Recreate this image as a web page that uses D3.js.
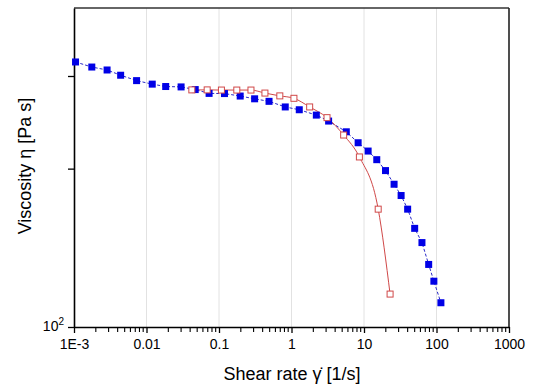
<!DOCTYPE html>
<html>
<head>
<meta charset="utf-8">
<script src="https://cdn.jsdelivr.net/npm/d3@7"></script>
<style>
  body{margin:0;background:#fff;}
  svg{display:block;font-family:"Liberation Sans",Arial,sans-serif;}
</style>
</head>
<body>
<div id="chart"></div>
<script>
// shear rate [1/s] and viscosity [Pa s]
const blueRate=[0.00105,0.00176,0.00286,0.0044,0.0073,0.012,0.0184,0.030,0.047,0.073,0.119,0.196,0.31,0.49,0.82,1.28,2.2,3.25,5.7,8.3,11.4,15,19.8,26,32.5,40,50,63,78,92,115];
const blueVisc=[319,312,308,301,294,289.5,286.5,286,282.7,278,277.8,274.8,271.5,268.5,262,258.8,252.8,246.3,235,224,216,208,198.3,186.8,177.8,167.5,154,144.7,131.5,122.2,111.2];

const redRate=[0.0422,0.0687,0.108,0.176,0.276,0.43,0.69,1.08,1.78,3.09,5.24,8.64,15.7,22.9];
const redVisc=[282.3,282.3,282.1,282.1,282.1,278.4,275,272.1,262,250,231.7,210.5,167.5,115.5];

const xDecades=[1e-3,1e-2,1e-1,1,10,100,1000];
const xTickLabels=["1E-3","0.01","0.1","1","10","100","1000"];
const yTicks=[100,200,300];

const W=550,H=389;
const margin={top:8,right:41,bottom:62,left:74};

const svg=d3.select("#chart").append("svg")
  .attr("width",W).attr("height",H);

const x=d3.scaleLog().domain([1e-3,1e3]).range([margin.left,W-margin.right]);
const y=d3.scaleLog().domain([100,404]).range([H-margin.bottom,margin.top]);

const x0=margin.left,x1=W-margin.right,y0=H-margin.bottom,y1=margin.top;

// vertical grid at decades
svg.append("g").selectAll("line")
  .data(xDecades.slice(1,-1))
  .enter().append("line")
  .attr("x1",d=>x(d)).attr("x2",d=>x(d))
  .attr("y1",y1).attr("y2",y0)
  .attr("stroke","#e2e2e2").attr("stroke-width",1);

// frame top / right
svg.append("line").attr("x1",x0).attr("x2",x1).attr("y1",y1).attr("y2",y1)
  .attr("stroke","#333").attr("stroke-width",1.6);
svg.append("line").attr("x1",x1).attr("x2",x1).attr("y1",y1).attr("y2",y0)
  .attr("stroke","#222").attr("stroke-width",1.6);

// x axis with minor ticks
const minor=[];
xDecades.slice(0,-1).forEach(d=>{for(let k=2;k<=9;k++)minor.push(d*k)});
const xAxis=d3.axisBottom(x).tickValues(xDecades)
  .tickFormat((d,i)=>xTickLabels[i]).tickSize(6).tickSizeOuter(0);
const gx=svg.append("g").attr("transform",`translate(0,${y0})`).call(xAxis);
gx.select(".domain").attr("stroke","#000").attr("stroke-width",1.6);
gx.selectAll(".tick line").attr("stroke","#000").attr("stroke-width",1.3);
gx.selectAll(".tick text").attr("font-size",14).attr("fill","#000")
  .attr("font-family","Liberation Sans, Arial, sans-serif").attr("dy","0.9em");
gx.append("g").selectAll("line").data(minor).enter().append("line")
  .attr("x1",d=>x(d)).attr("x2",d=>x(d)).attr("y1",0).attr("y2",5)
  .attr("stroke","#000").attr("stroke-width",1.1);

// y axis
const yAxis=d3.axisLeft(y).tickValues(yTicks).tickFormat("").tickSize(6).tickSizeOuter(0);
const gy=svg.append("g").attr("transform",`translate(${x0},0)`).call(yAxis);
gy.select(".domain").attr("stroke","#000").attr("stroke-width",1.6);
gy.selectAll(".tick line").attr("stroke","#000").attr("stroke-width",1.3);

const yl=svg.append("text").attr("x",x0-10).attr("y",y(100)+4)
  .attr("text-anchor","end").attr("font-size",14).attr("fill","#000");
yl.append("tspan").text("10");
yl.append("tspan").attr("font-size",10).attr("dy",-6).text("2");

// blue series
const line=d3.line().x(d=>x(d[0])).y(d=>y(d[1]));
const blue=blueRate.map((r,i)=>[r,blueVisc[i]]);
const red=redRate.map((r,i)=>[r,redVisc[i]]);

svg.append("path").datum(blue).attr("d",line)
  .attr("fill","none").attr("stroke","#2a2ac8").attr("stroke-width",1)
  .attr("stroke-dasharray","3,2");

svg.append("path").datum(red).attr("d",line.curve(d3.curveMonotoneX))
  .attr("fill","none").attr("stroke","#d04848").attr("stroke-width",1);

const s=7;
svg.append("g").selectAll("rect").data(blue).enter().append("rect")
  .attr("x",d=>x(d[0])-s/2).attr("y",d=>y(d[1])-s/2)
  .attr("width",s).attr("height",s).attr("fill","#0000e6");

svg.append("g").selectAll("rect").data(red).enter().append("rect")
  .attr("x",d=>x(d[0])-s/2+0.5).attr("y",d=>y(d[1])-s/2+0.5)
  .attr("width",s-1).attr("height",s-1)
  .attr("fill","#fff").attr("stroke","#d04848").attr("stroke-width",1);

// axis titles
svg.append("text").attr("x",292).attr("y",380).attr("text-anchor","middle")
  .attr("font-size",18).attr("fill","#000").text("Shear rate \u03B3\u0307 [1/s]");

svg.append("text").attr("transform","translate(31,166) rotate(-90)")
  .attr("text-anchor","middle").attr("font-size",18).attr("fill","#000")
  .text("Viscosity \u03B7 [Pa s]");
</script>
</body>
</html>
